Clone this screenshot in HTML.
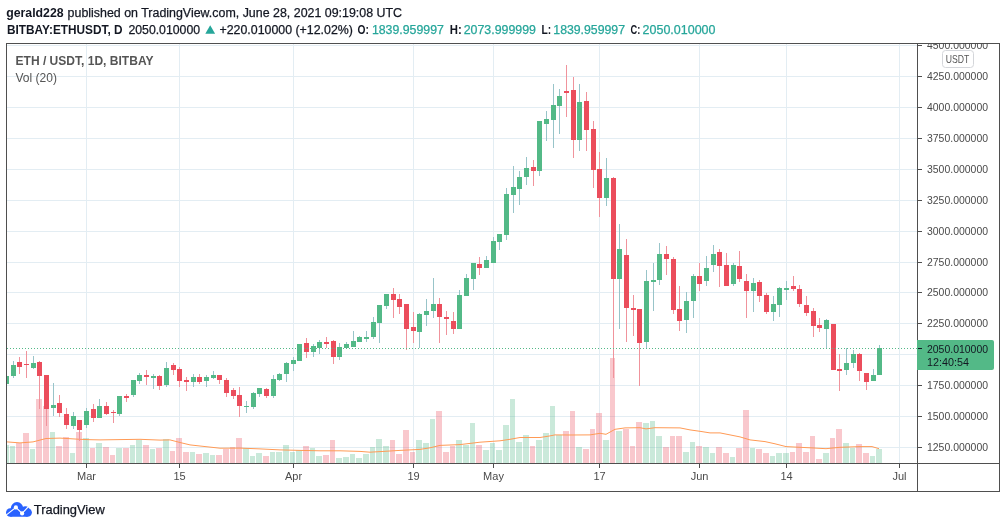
<!DOCTYPE html>
<html><head><meta charset="utf-8"><style>
html,body{margin:0;padding:0;background:#fff;width:1006px;height:528px;overflow:hidden;position:relative;font-family:"Liberation Sans", sans-serif;}
</style></head><body>
<svg width="1006" height="528" viewBox="0 0 1006 528" style="position:absolute;left:0;top:0;will-change:transform"><defs><clipPath id="pane"><rect x="7" y="44" width="910" height="419"/></clipPath><clipPath id="pax"><rect x="918" y="44" width="81" height="419"/></clipPath></defs><g shape-rendering="crispEdges"><rect x="7" y="45" width="910" height="1" fill="#e3edf3"/><rect x="7" y="76" width="910" height="1" fill="#e3edf3"/><rect x="7" y="107" width="910" height="1" fill="#e3edf3"/><rect x="7" y="138" width="910" height="1" fill="#e3edf3"/><rect x="7" y="169" width="910" height="1" fill="#e3edf3"/><rect x="7" y="200" width="910" height="1" fill="#e3edf3"/><rect x="7" y="231" width="910" height="1" fill="#e3edf3"/><rect x="7" y="262" width="910" height="1" fill="#e3edf3"/><rect x="7" y="292" width="910" height="1" fill="#e3edf3"/><rect x="7" y="323" width="910" height="1" fill="#e3edf3"/><rect x="7" y="354" width="910" height="1" fill="#e3edf3"/><rect x="7" y="385" width="910" height="1" fill="#e3edf3"/><rect x="7" y="416" width="910" height="1" fill="#e3edf3"/><rect x="7" y="447" width="910" height="1" fill="#e3edf3"/><rect x="86" y="44" width="1" height="419" fill="#e3edf3"/><rect x="179" y="44" width="1" height="419" fill="#e3edf3"/><rect x="293" y="44" width="1" height="419" fill="#e3edf3"/><rect x="413" y="44" width="1" height="419" fill="#e3edf3"/><rect x="493" y="44" width="1" height="419" fill="#e3edf3"/><rect x="599" y="44" width="1" height="419" fill="#e3edf3"/><rect x="699" y="44" width="1" height="419" fill="#e3edf3"/><rect x="786" y="44" width="1" height="419" fill="#e3edf3"/><rect x="899" y="44" width="1" height="419" fill="#e3edf3"/></g><g clip-path="url(#pane)" shape-rendering="crispEdges"><rect x="3" y="445" width="6" height="18" fill="rgba(83,185,135,0.31)"/><rect x="10" y="446" width="5" height="17" fill="rgba(83,185,135,0.31)"/><rect x="16" y="443" width="6" height="20" fill="rgba(235,77,92,0.31)"/><rect x="23" y="433" width="6" height="30" fill="rgba(235,77,92,0.31)"/><rect x="30" y="449" width="5" height="14" fill="rgba(83,185,135,0.31)"/><rect x="36" y="399" width="6" height="64" fill="rgba(235,77,92,0.31)"/><rect x="43" y="406" width="6" height="57" fill="rgba(235,77,92,0.31)"/><rect x="50" y="432" width="5" height="31" fill="rgba(83,185,135,0.31)"/><rect x="56" y="446" width="6" height="17" fill="rgba(235,77,92,0.31)"/><rect x="63" y="437" width="6" height="26" fill="rgba(235,77,92,0.31)"/><rect x="70" y="453" width="5" height="10" fill="rgba(83,185,135,0.31)"/><rect x="76" y="432" width="6" height="31" fill="rgba(235,77,92,0.31)"/><rect x="83" y="438" width="6" height="25" fill="rgba(83,185,135,0.31)"/><rect x="90" y="448" width="5" height="15" fill="rgba(235,77,92,0.31)"/><rect x="96" y="443" width="6" height="20" fill="rgba(83,185,135,0.31)"/><rect x="103" y="447" width="6" height="16" fill="rgba(235,77,92,0.31)"/><rect x="110" y="455" width="5" height="8" fill="rgba(235,77,92,0.31)"/><rect x="116" y="448" width="6" height="15" fill="rgba(83,185,135,0.31)"/><rect x="123" y="448" width="6" height="15" fill="rgba(235,77,92,0.31)"/><rect x="130" y="445" width="5" height="18" fill="rgba(83,185,135,0.31)"/><rect x="136" y="440" width="6" height="23" fill="rgba(83,185,135,0.31)"/><rect x="143" y="445" width="6" height="18" fill="rgba(235,77,92,0.31)"/><rect x="150" y="449" width="5" height="14" fill="rgba(83,185,135,0.31)"/><rect x="156" y="448" width="6" height="15" fill="rgba(235,77,92,0.31)"/><rect x="163" y="439" width="6" height="24" fill="rgba(83,185,135,0.31)"/><rect x="170" y="451" width="5" height="12" fill="rgba(235,77,92,0.31)"/><rect x="176" y="438" width="6" height="25" fill="rgba(235,77,92,0.31)"/><rect x="183" y="452" width="6" height="11" fill="rgba(235,77,92,0.31)"/><rect x="190" y="452" width="5" height="11" fill="rgba(83,185,135,0.31)"/><rect x="196" y="454" width="6" height="9" fill="rgba(235,77,92,0.31)"/><rect x="203" y="453" width="6" height="10" fill="rgba(83,185,135,0.31)"/><rect x="210" y="455" width="5" height="8" fill="rgba(83,185,135,0.31)"/><rect x="216" y="455" width="6" height="8" fill="rgba(235,77,92,0.31)"/><rect x="223" y="449" width="6" height="14" fill="rgba(235,77,92,0.31)"/><rect x="230" y="447" width="5" height="16" fill="rgba(235,77,92,0.31)"/><rect x="236" y="438" width="6" height="25" fill="rgba(235,77,92,0.31)"/><rect x="243" y="448" width="6" height="15" fill="rgba(83,185,135,0.31)"/><rect x="250" y="456" width="5" height="7" fill="rgba(83,185,135,0.31)"/><rect x="256" y="453" width="6" height="10" fill="rgba(83,185,135,0.31)"/><rect x="263" y="456" width="6" height="7" fill="rgba(235,77,92,0.31)"/><rect x="270" y="452" width="5" height="11" fill="rgba(83,185,135,0.31)"/><rect x="276" y="452" width="6" height="11" fill="rgba(83,185,135,0.31)"/><rect x="283" y="445" width="6" height="18" fill="rgba(83,185,135,0.31)"/><rect x="290" y="452" width="5" height="11" fill="rgba(83,185,135,0.31)"/><rect x="296" y="450" width="6" height="13" fill="rgba(83,185,135,0.31)"/><rect x="303" y="446" width="6" height="17" fill="rgba(235,77,92,0.31)"/><rect x="310" y="448" width="5" height="15" fill="rgba(83,185,135,0.31)"/><rect x="316" y="456" width="6" height="7" fill="rgba(83,185,135,0.31)"/><rect x="323" y="455" width="6" height="8" fill="rgba(235,77,92,0.31)"/><rect x="330" y="440" width="5" height="23" fill="rgba(235,77,92,0.31)"/><rect x="336" y="458" width="6" height="5" fill="rgba(83,185,135,0.31)"/><rect x="343" y="457" width="6" height="6" fill="rgba(83,185,135,0.31)"/><rect x="350" y="454" width="5" height="9" fill="rgba(83,185,135,0.31)"/><rect x="356" y="458" width="6" height="5" fill="rgba(83,185,135,0.31)"/><rect x="363" y="454" width="6" height="9" fill="rgba(83,185,135,0.31)"/><rect x="370" y="447" width="5" height="16" fill="rgba(83,185,135,0.31)"/><rect x="376" y="439" width="6" height="24" fill="rgba(83,185,135,0.31)"/><rect x="383" y="446" width="6" height="17" fill="rgba(83,185,135,0.31)"/><rect x="390" y="440" width="5" height="23" fill="rgba(235,77,92,0.31)"/><rect x="396" y="454" width="6" height="9" fill="rgba(235,77,92,0.31)"/><rect x="403" y="430" width="6" height="33" fill="rgba(235,77,92,0.31)"/><rect x="410" y="452" width="5" height="11" fill="rgba(235,77,92,0.31)"/><rect x="416" y="440" width="6" height="23" fill="rgba(83,185,135,0.31)"/><rect x="423" y="443" width="6" height="20" fill="rgba(83,185,135,0.31)"/><rect x="430" y="419" width="5" height="44" fill="rgba(83,185,135,0.31)"/><rect x="436" y="411" width="6" height="52" fill="rgba(235,77,92,0.31)"/><rect x="443" y="452" width="6" height="11" fill="rgba(235,77,92,0.31)"/><rect x="450" y="446" width="5" height="17" fill="rgba(235,77,92,0.31)"/><rect x="456" y="440" width="6" height="23" fill="rgba(83,185,135,0.31)"/><rect x="463" y="445" width="6" height="18" fill="rgba(83,185,135,0.31)"/><rect x="470" y="423" width="5" height="40" fill="rgba(83,185,135,0.31)"/><rect x="476" y="445" width="6" height="18" fill="rgba(235,77,92,0.31)"/><rect x="483" y="450" width="6" height="13" fill="rgba(83,185,135,0.31)"/><rect x="490" y="443" width="5" height="20" fill="rgba(83,185,135,0.31)"/><rect x="496" y="450" width="6" height="13" fill="rgba(83,185,135,0.31)"/><rect x="503" y="425" width="6" height="38" fill="rgba(83,185,135,0.31)"/><rect x="510" y="399" width="5" height="64" fill="rgba(83,185,135,0.31)"/><rect x="516" y="442" width="6" height="21" fill="rgba(83,185,135,0.31)"/><rect x="523" y="435" width="6" height="28" fill="rgba(83,185,135,0.31)"/><rect x="530" y="446" width="5" height="17" fill="rgba(235,77,92,0.31)"/><rect x="536" y="440" width="6" height="23" fill="rgba(83,185,135,0.31)"/><rect x="543" y="433" width="6" height="30" fill="rgba(83,185,135,0.31)"/><rect x="550" y="406" width="5" height="57" fill="rgba(83,185,135,0.31)"/><rect x="556" y="435" width="6" height="28" fill="rgba(83,185,135,0.31)"/><rect x="563" y="431" width="6" height="32" fill="rgba(235,77,92,0.31)"/><rect x="570" y="411" width="5" height="52" fill="rgba(235,77,92,0.31)"/><rect x="576" y="447" width="6" height="16" fill="rgba(83,185,135,0.31)"/><rect x="583" y="449" width="6" height="14" fill="rgba(235,77,92,0.31)"/><rect x="590" y="429" width="5" height="34" fill="rgba(235,77,92,0.31)"/><rect x="596" y="413" width="6" height="50" fill="rgba(235,77,92,0.31)"/><rect x="603" y="440" width="6" height="23" fill="rgba(83,185,135,0.31)"/><rect x="610" y="358" width="5" height="105" fill="rgba(235,77,92,0.31)"/><rect x="616" y="431" width="6" height="32" fill="rgba(83,185,135,0.31)"/><rect x="623" y="429" width="6" height="34" fill="rgba(235,77,92,0.31)"/><rect x="630" y="446" width="5" height="17" fill="rgba(235,77,92,0.31)"/><rect x="636" y="422" width="6" height="41" fill="rgba(235,77,92,0.31)"/><rect x="643" y="423" width="6" height="40" fill="rgba(83,185,135,0.31)"/><rect x="650" y="421" width="5" height="42" fill="rgba(83,185,135,0.31)"/><rect x="656" y="436" width="6" height="27" fill="rgba(83,185,135,0.31)"/><rect x="663" y="447" width="6" height="16" fill="rgba(235,77,92,0.31)"/><rect x="670" y="436" width="5" height="27" fill="rgba(235,77,92,0.31)"/><rect x="676" y="436" width="6" height="27" fill="rgba(235,77,92,0.31)"/><rect x="683" y="452" width="6" height="11" fill="rgba(83,185,135,0.31)"/><rect x="690" y="442" width="5" height="21" fill="rgba(83,185,135,0.31)"/><rect x="696" y="446" width="6" height="17" fill="rgba(235,77,92,0.31)"/><rect x="703" y="447" width="6" height="16" fill="rgba(83,185,135,0.31)"/><rect x="710" y="453" width="5" height="10" fill="rgba(83,185,135,0.31)"/><rect x="716" y="447" width="6" height="16" fill="rgba(235,77,92,0.31)"/><rect x="723" y="453" width="6" height="10" fill="rgba(235,77,92,0.31)"/><rect x="730" y="457" width="5" height="6" fill="rgba(83,185,135,0.31)"/><rect x="736" y="448" width="6" height="15" fill="rgba(235,77,92,0.31)"/><rect x="743" y="410" width="6" height="53" fill="rgba(235,77,92,0.31)"/><rect x="750" y="448" width="5" height="15" fill="rgba(83,185,135,0.31)"/><rect x="756" y="449" width="6" height="14" fill="rgba(235,77,92,0.31)"/><rect x="763" y="453" width="6" height="10" fill="rgba(235,77,92,0.31)"/><rect x="770" y="456" width="5" height="7" fill="rgba(83,185,135,0.31)"/><rect x="776" y="453" width="6" height="10" fill="rgba(83,185,135,0.31)"/><rect x="783" y="453" width="6" height="10" fill="rgba(83,185,135,0.31)"/><rect x="790" y="452" width="5" height="11" fill="rgba(235,77,92,0.31)"/><rect x="796" y="443" width="6" height="20" fill="rgba(235,77,92,0.31)"/><rect x="803" y="452" width="6" height="11" fill="rgba(235,77,92,0.31)"/><rect x="810" y="436" width="5" height="27" fill="rgba(235,77,92,0.31)"/><rect x="816" y="459" width="6" height="4" fill="rgba(235,77,92,0.31)"/><rect x="823" y="453" width="6" height="10" fill="rgba(83,185,135,0.31)"/><rect x="830" y="438" width="5" height="25" fill="rgba(235,77,92,0.31)"/><rect x="836" y="429" width="6" height="34" fill="rgba(235,77,92,0.31)"/><rect x="843" y="443" width="6" height="20" fill="rgba(83,185,135,0.31)"/><rect x="850" y="448" width="5" height="15" fill="rgba(83,185,135,0.31)"/><rect x="856" y="444" width="6" height="19" fill="rgba(235,77,92,0.31)"/><rect x="863" y="453" width="6" height="10" fill="rgba(235,77,92,0.31)"/><rect x="870" y="456" width="5" height="7" fill="rgba(83,185,135,0.31)"/><rect x="876" y="449" width="6" height="14" fill="rgba(83,185,135,0.31)"/></g><polyline points="7,441.9 20,442.9 33,441.9 46,438.5 60,438.1 80,439.3 90,439.7 100,439.9 140,439.3 160,440.1 170,439.9 180,442.5 190,444.9 200,446.0 220,448.2 240,448.1 260,448.9 280,449.9 300,450.4 320,450.8 340,450.8 360,451.4 370,452.2 380,451.6 400,450.4 420,449.4 430,447.8 440,445.4 460,444.6 470,443.4 480,442.2 500,440.8 510,439.3 520,437.5 540,437.5 550,435.9 555,434.9 570,435 590,434.9 600,433.3 606,434.3 615,429.3 625,427.9 640,427.7 646,428.9 655,427.7 680,427.9 690,429.9 700,431.3 710,432.9 720,432.9 740,436.9 750,439.9 765,441.6 775,443.8 786,446.6 800,447.3 810,447.8 826,448.7 840,447.3 860,446.6 872,446.6 879,448.7" fill="none" stroke="#ff9a55" stroke-width="1.0" stroke-linejoin="round"/><g clip-path="url(#pane)" shape-rendering="crispEdges"><rect x="6" y="376" width="1" height="8" fill="#98c4c9"/><rect x="4" y="376" width="5" height="8" fill="#53b987"/><rect x="13" y="361" width="1" height="17" fill="#98c4c9"/><rect x="11" y="365" width="5" height="11" fill="#53b987"/><rect x="19" y="357" width="1" height="17" fill="#f0939c"/><rect x="17" y="362" width="5" height="5" fill="#eb4d5c"/><rect x="26" y="351" width="1" height="27" fill="#f0939c"/><rect x="24" y="364" width="5" height="1" fill="#eb4d5c"/><rect x="33" y="356" width="1" height="13" fill="#98c4c9"/><rect x="31" y="363" width="5" height="5" fill="#53b987"/><rect x="39" y="361" width="1" height="48" fill="#f0939c"/><rect x="37" y="362" width="5" height="14" fill="#eb4d5c"/><rect x="46" y="375" width="1" height="51" fill="#f0939c"/><rect x="44" y="375" width="5" height="34" fill="#eb4d5c"/><rect x="53" y="383" width="1" height="33" fill="#98c4c9"/><rect x="51" y="405" width="5" height="3" fill="#53b987"/><rect x="59" y="395" width="1" height="22" fill="#f0939c"/><rect x="57" y="403" width="5" height="10" fill="#eb4d5c"/><rect x="66" y="408" width="1" height="21" fill="#f0939c"/><rect x="64" y="414" width="5" height="11" fill="#eb4d5c"/><rect x="73" y="412" width="1" height="17" fill="#98c4c9"/><rect x="71" y="416" width="5" height="10" fill="#53b987"/><rect x="79" y="420" width="1" height="21" fill="#f0939c"/><rect x="77" y="420" width="5" height="10" fill="#eb4d5c"/><rect x="86" y="408" width="1" height="20" fill="#98c4c9"/><rect x="84" y="411" width="5" height="14" fill="#53b987"/><rect x="93" y="404" width="1" height="18" fill="#f0939c"/><rect x="91" y="409" width="5" height="9" fill="#eb4d5c"/><rect x="99" y="399" width="1" height="19" fill="#98c4c9"/><rect x="97" y="406" width="5" height="12" fill="#53b987"/><rect x="106" y="402" width="1" height="13" fill="#f0939c"/><rect x="104" y="406" width="5" height="8" fill="#eb4d5c"/><rect x="113" y="410" width="1" height="13" fill="#f0939c"/><rect x="111" y="412" width="5" height="1" fill="#eb4d5c"/><rect x="119" y="396" width="1" height="20" fill="#98c4c9"/><rect x="117" y="396" width="5" height="18" fill="#53b987"/><rect x="126" y="394" width="1" height="8" fill="#f0939c"/><rect x="124" y="396" width="5" height="2" fill="#eb4d5c"/><rect x="133" y="380" width="1" height="17" fill="#98c4c9"/><rect x="131" y="380" width="5" height="15" fill="#53b987"/><rect x="139" y="373" width="1" height="11" fill="#98c4c9"/><rect x="137" y="375" width="5" height="6" fill="#53b987"/><rect x="146" y="370" width="1" height="15" fill="#f0939c"/><rect x="144" y="375" width="5" height="2" fill="#eb4d5c"/><rect x="153" y="374" width="1" height="15" fill="#98c4c9"/><rect x="151" y="376" width="5" height="2" fill="#53b987"/><rect x="159" y="375" width="1" height="15" fill="#f0939c"/><rect x="157" y="376" width="5" height="10" fill="#eb4d5c"/><rect x="166" y="362" width="1" height="25" fill="#98c4c9"/><rect x="164" y="368" width="5" height="17" fill="#53b987"/><rect x="173" y="363" width="1" height="12" fill="#f0939c"/><rect x="171" y="365" width="5" height="5" fill="#eb4d5c"/><rect x="179" y="367" width="1" height="20" fill="#f0939c"/><rect x="177" y="369" width="5" height="12" fill="#eb4d5c"/><rect x="186" y="377" width="1" height="14" fill="#f0939c"/><rect x="184" y="380" width="5" height="2" fill="#eb4d5c"/><rect x="193" y="374" width="1" height="13" fill="#98c4c9"/><rect x="191" y="377" width="5" height="5" fill="#53b987"/><rect x="199" y="374" width="1" height="10" fill="#f0939c"/><rect x="197" y="377" width="5" height="5" fill="#eb4d5c"/><rect x="206" y="375" width="1" height="12" fill="#98c4c9"/><rect x="204" y="377" width="5" height="4" fill="#53b987"/><rect x="213" y="371" width="1" height="8" fill="#98c4c9"/><rect x="211" y="375" width="5" height="3" fill="#53b987"/><rect x="219" y="375" width="1" height="9" fill="#f0939c"/><rect x="217" y="375" width="5" height="5" fill="#eb4d5c"/><rect x="226" y="378" width="1" height="19" fill="#f0939c"/><rect x="224" y="380" width="5" height="13" fill="#eb4d5c"/><rect x="233" y="388" width="1" height="11" fill="#f0939c"/><rect x="231" y="390" width="5" height="6" fill="#eb4d5c"/><rect x="239" y="387" width="1" height="30" fill="#f0939c"/><rect x="237" y="395" width="5" height="11" fill="#eb4d5c"/><rect x="246" y="401" width="1" height="12" fill="#98c4c9"/><rect x="244" y="406" width="5" height="1" fill="#53b987"/><rect x="253" y="392" width="1" height="17" fill="#98c4c9"/><rect x="251" y="393" width="5" height="14" fill="#53b987"/><rect x="259" y="388" width="1" height="9" fill="#98c4c9"/><rect x="257" y="388" width="5" height="6" fill="#53b987"/><rect x="266" y="388" width="1" height="10" fill="#f0939c"/><rect x="264" y="389" width="5" height="7" fill="#eb4d5c"/><rect x="273" y="375" width="1" height="23" fill="#98c4c9"/><rect x="271" y="379" width="5" height="17" fill="#53b987"/><rect x="279" y="373" width="1" height="8" fill="#98c4c9"/><rect x="277" y="374" width="5" height="6" fill="#53b987"/><rect x="286" y="362" width="1" height="20" fill="#98c4c9"/><rect x="284" y="363" width="5" height="11" fill="#53b987"/><rect x="293" y="357" width="1" height="14" fill="#98c4c9"/><rect x="291" y="360" width="5" height="4" fill="#53b987"/><rect x="299" y="344" width="1" height="17" fill="#98c4c9"/><rect x="297" y="344" width="5" height="17" fill="#53b987"/><rect x="306" y="338" width="1" height="20" fill="#f0939c"/><rect x="304" y="343" width="5" height="9" fill="#eb4d5c"/><rect x="313" y="344" width="1" height="13" fill="#98c4c9"/><rect x="311" y="346" width="5" height="6" fill="#53b987"/><rect x="319" y="340" width="1" height="14" fill="#98c4c9"/><rect x="317" y="342" width="5" height="6" fill="#53b987"/><rect x="326" y="337" width="1" height="11" fill="#f0939c"/><rect x="324" y="342" width="5" height="2" fill="#eb4d5c"/><rect x="333" y="340" width="1" height="24" fill="#f0939c"/><rect x="331" y="341" width="5" height="16" fill="#eb4d5c"/><rect x="339" y="343" width="1" height="17" fill="#98c4c9"/><rect x="337" y="347" width="5" height="10" fill="#53b987"/><rect x="346" y="342" width="1" height="6" fill="#98c4c9"/><rect x="344" y="344" width="5" height="4" fill="#53b987"/><rect x="353" y="331" width="1" height="16" fill="#98c4c9"/><rect x="351" y="341" width="5" height="6" fill="#53b987"/><rect x="359" y="336" width="1" height="6" fill="#98c4c9"/><rect x="357" y="337" width="5" height="5" fill="#53b987"/><rect x="366" y="331" width="1" height="11" fill="#98c4c9"/><rect x="364" y="337" width="5" height="2" fill="#53b987"/><rect x="373" y="317" width="1" height="22" fill="#98c4c9"/><rect x="371" y="322" width="5" height="15" fill="#53b987"/><rect x="379" y="305" width="1" height="38" fill="#98c4c9"/><rect x="377" y="305" width="5" height="18" fill="#53b987"/><rect x="386" y="294" width="1" height="15" fill="#98c4c9"/><rect x="384" y="294" width="5" height="12" fill="#53b987"/><rect x="393" y="288" width="1" height="30" fill="#f0939c"/><rect x="391" y="294" width="5" height="6" fill="#eb4d5c"/><rect x="399" y="294" width="1" height="20" fill="#f0939c"/><rect x="397" y="299" width="5" height="8" fill="#eb4d5c"/><rect x="406" y="304" width="1" height="46" fill="#f0939c"/><rect x="404" y="304" width="5" height="25" fill="#eb4d5c"/><rect x="413" y="312" width="1" height="31" fill="#f0939c"/><rect x="411" y="327" width="5" height="4" fill="#eb4d5c"/><rect x="419" y="313" width="1" height="35" fill="#98c4c9"/><rect x="417" y="314" width="5" height="18" fill="#53b987"/><rect x="426" y="299" width="1" height="27" fill="#98c4c9"/><rect x="424" y="311" width="5" height="4" fill="#53b987"/><rect x="433" y="278" width="1" height="40" fill="#98c4c9"/><rect x="431" y="304" width="5" height="7" fill="#53b987"/><rect x="439" y="298" width="1" height="45" fill="#f0939c"/><rect x="437" y="304" width="5" height="13" fill="#eb4d5c"/><rect x="446" y="311" width="1" height="24" fill="#f0939c"/><rect x="444" y="317" width="5" height="2" fill="#eb4d5c"/><rect x="453" y="312" width="1" height="22" fill="#f0939c"/><rect x="451" y="321" width="5" height="8" fill="#eb4d5c"/><rect x="459" y="290" width="1" height="39" fill="#98c4c9"/><rect x="457" y="295" width="5" height="34" fill="#53b987"/><rect x="466" y="274" width="1" height="22" fill="#98c4c9"/><rect x="464" y="278" width="5" height="18" fill="#53b987"/><rect x="473" y="263" width="1" height="27" fill="#98c4c9"/><rect x="471" y="263" width="5" height="16" fill="#53b987"/><rect x="479" y="257" width="1" height="18" fill="#f0939c"/><rect x="477" y="264" width="5" height="4" fill="#eb4d5c"/><rect x="486" y="256" width="1" height="12" fill="#98c4c9"/><rect x="484" y="260" width="5" height="8" fill="#53b987"/><rect x="493" y="237" width="1" height="26" fill="#98c4c9"/><rect x="491" y="241" width="5" height="22" fill="#53b987"/><rect x="499" y="234" width="1" height="16" fill="#98c4c9"/><rect x="497" y="234" width="5" height="8" fill="#53b987"/><rect x="506" y="188" width="1" height="52" fill="#98c4c9"/><rect x="504" y="194" width="5" height="41" fill="#53b987"/><rect x="513" y="166" width="1" height="47" fill="#98c4c9"/><rect x="511" y="187" width="5" height="8" fill="#53b987"/><rect x="519" y="171" width="1" height="34" fill="#98c4c9"/><rect x="517" y="177" width="5" height="12" fill="#53b987"/><rect x="526" y="157" width="1" height="28" fill="#98c4c9"/><rect x="524" y="168" width="5" height="9" fill="#53b987"/><rect x="533" y="160" width="1" height="26" fill="#f0939c"/><rect x="531" y="167" width="5" height="4" fill="#eb4d5c"/><rect x="539" y="121" width="1" height="55" fill="#98c4c9"/><rect x="537" y="121" width="5" height="50" fill="#53b987"/><rect x="546" y="111" width="1" height="30" fill="#98c4c9"/><rect x="544" y="119" width="5" height="5" fill="#53b987"/><rect x="553" y="84" width="1" height="64" fill="#98c4c9"/><rect x="551" y="105" width="5" height="15" fill="#53b987"/><rect x="559" y="89" width="1" height="45" fill="#98c4c9"/><rect x="557" y="96" width="5" height="10" fill="#53b987"/><rect x="566" y="65" width="1" height="52" fill="#f0939c"/><rect x="564" y="91" width="5" height="2" fill="#eb4d5c"/><rect x="573" y="77" width="1" height="81" fill="#f0939c"/><rect x="571" y="90" width="5" height="50" fill="#eb4d5c"/><rect x="579" y="84" width="1" height="67" fill="#98c4c9"/><rect x="577" y="102" width="5" height="38" fill="#53b987"/><rect x="586" y="92" width="1" height="59" fill="#f0939c"/><rect x="584" y="101" width="5" height="29" fill="#eb4d5c"/><rect x="593" y="121" width="1" height="67" fill="#f0939c"/><rect x="591" y="129" width="5" height="41" fill="#eb4d5c"/><rect x="599" y="152" width="1" height="65" fill="#f0939c"/><rect x="597" y="169" width="5" height="29" fill="#eb4d5c"/><rect x="606" y="158" width="1" height="48" fill="#98c4c9"/><rect x="604" y="178" width="5" height="20" fill="#53b987"/><rect x="613" y="177" width="1" height="201" fill="#f0939c"/><rect x="611" y="178" width="5" height="101" fill="#eb4d5c"/><rect x="619" y="224" width="1" height="105" fill="#98c4c9"/><rect x="617" y="249" width="5" height="30" fill="#53b987"/><rect x="626" y="239" width="1" height="103" fill="#f0939c"/><rect x="624" y="255" width="5" height="53" fill="#eb4d5c"/><rect x="633" y="295" width="1" height="41" fill="#f0939c"/><rect x="631" y="308" width="5" height="2" fill="#eb4d5c"/><rect x="639" y="309" width="1" height="77" fill="#f0939c"/><rect x="637" y="309" width="5" height="34" fill="#eb4d5c"/><rect x="646" y="270" width="1" height="78" fill="#98c4c9"/><rect x="644" y="281" width="5" height="61" fill="#53b987"/><rect x="653" y="263" width="1" height="48" fill="#98c4c9"/><rect x="651" y="280" width="5" height="2" fill="#53b987"/><rect x="659" y="243" width="1" height="42" fill="#98c4c9"/><rect x="657" y="254" width="5" height="26" fill="#53b987"/><rect x="666" y="246" width="1" height="29" fill="#f0939c"/><rect x="664" y="254" width="5" height="5" fill="#eb4d5c"/><rect x="673" y="257" width="1" height="57" fill="#f0939c"/><rect x="671" y="259" width="5" height="51" fill="#eb4d5c"/><rect x="679" y="286" width="1" height="45" fill="#f0939c"/><rect x="677" y="309" width="5" height="12" fill="#eb4d5c"/><rect x="686" y="292" width="1" height="41" fill="#98c4c9"/><rect x="684" y="301" width="5" height="19" fill="#53b987"/><rect x="693" y="274" width="1" height="44" fill="#98c4c9"/><rect x="691" y="276" width="5" height="25" fill="#53b987"/><rect x="699" y="263" width="1" height="28" fill="#f0939c"/><rect x="697" y="276" width="5" height="8" fill="#eb4d5c"/><rect x="706" y="256" width="1" height="30" fill="#98c4c9"/><rect x="704" y="268" width="5" height="13" fill="#53b987"/><rect x="713" y="245" width="1" height="27" fill="#98c4c9"/><rect x="711" y="254" width="5" height="11" fill="#53b987"/><rect x="719" y="249" width="1" height="38" fill="#f0939c"/><rect x="717" y="252" width="5" height="14" fill="#eb4d5c"/><rect x="726" y="253" width="1" height="33" fill="#f0939c"/><rect x="724" y="265" width="5" height="21" fill="#eb4d5c"/><rect x="733" y="263" width="1" height="23" fill="#98c4c9"/><rect x="731" y="265" width="5" height="19" fill="#53b987"/><rect x="739" y="251" width="1" height="31" fill="#f0939c"/><rect x="737" y="266" width="5" height="13" fill="#eb4d5c"/><rect x="746" y="274" width="1" height="44" fill="#f0939c"/><rect x="744" y="281" width="5" height="10" fill="#eb4d5c"/><rect x="753" y="278" width="1" height="34" fill="#98c4c9"/><rect x="751" y="283" width="5" height="8" fill="#53b987"/><rect x="759" y="280" width="1" height="22" fill="#f0939c"/><rect x="757" y="282" width="5" height="14" fill="#eb4d5c"/><rect x="766" y="293" width="1" height="21" fill="#f0939c"/><rect x="764" y="295" width="5" height="17" fill="#eb4d5c"/><rect x="773" y="296" width="1" height="25" fill="#98c4c9"/><rect x="771" y="304" width="5" height="8" fill="#53b987"/><rect x="779" y="287" width="1" height="30" fill="#98c4c9"/><rect x="777" y="288" width="5" height="17" fill="#53b987"/><rect x="786" y="281" width="1" height="19" fill="#98c4c9"/><rect x="784" y="288" width="5" height="2" fill="#53b987"/><rect x="793" y="276" width="1" height="15" fill="#f0939c"/><rect x="791" y="286" width="5" height="3" fill="#eb4d5c"/><rect x="799" y="285" width="1" height="22" fill="#f0939c"/><rect x="797" y="289" width="5" height="15" fill="#eb4d5c"/><rect x="806" y="296" width="1" height="20" fill="#f0939c"/><rect x="804" y="305" width="5" height="8" fill="#eb4d5c"/><rect x="813" y="308" width="1" height="29" fill="#f0939c"/><rect x="811" y="311" width="5" height="15" fill="#eb4d5c"/><rect x="819" y="318" width="1" height="14" fill="#f0939c"/><rect x="817" y="325" width="5" height="3" fill="#eb4d5c"/><rect x="826" y="319" width="1" height="29" fill="#98c4c9"/><rect x="824" y="320" width="5" height="9" fill="#53b987"/><rect x="833" y="324" width="1" height="46" fill="#f0939c"/><rect x="831" y="324" width="5" height="46" fill="#eb4d5c"/><rect x="839" y="354" width="1" height="37" fill="#f0939c"/><rect x="837" y="369" width="5" height="2" fill="#eb4d5c"/><rect x="846" y="348" width="1" height="27" fill="#98c4c9"/><rect x="844" y="363" width="5" height="7" fill="#53b987"/><rect x="853" y="350" width="1" height="18" fill="#98c4c9"/><rect x="851" y="354" width="5" height="9" fill="#53b987"/><rect x="859" y="353" width="1" height="28" fill="#f0939c"/><rect x="857" y="354" width="5" height="17" fill="#eb4d5c"/><rect x="866" y="373" width="1" height="17" fill="#f0939c"/><rect x="864" y="373" width="5" height="9" fill="#eb4d5c"/><rect x="873" y="369" width="1" height="12" fill="#98c4c9"/><rect x="871" y="375" width="5" height="6" fill="#53b987"/><rect x="879" y="345" width="1" height="30" fill="#98c4c9"/><rect x="877" y="348" width="5" height="27" fill="#53b987"/></g><g shape-rendering="crispEdges"><rect x="7" y="348" width="1" height="1" fill="#53b987"/><rect x="10" y="348" width="1" height="1" fill="#53b987"/><rect x="13" y="348" width="1" height="1" fill="#53b987"/><rect x="16" y="348" width="1" height="1" fill="#53b987"/><rect x="19" y="348" width="1" height="1" fill="#53b987"/><rect x="22" y="348" width="1" height="1" fill="#53b987"/><rect x="25" y="348" width="1" height="1" fill="#53b987"/><rect x="28" y="348" width="1" height="1" fill="#53b987"/><rect x="31" y="348" width="1" height="1" fill="#53b987"/><rect x="34" y="348" width="1" height="1" fill="#53b987"/><rect x="37" y="348" width="1" height="1" fill="#53b987"/><rect x="40" y="348" width="1" height="1" fill="#53b987"/><rect x="43" y="348" width="1" height="1" fill="#53b987"/><rect x="46" y="348" width="1" height="1" fill="#53b987"/><rect x="49" y="348" width="1" height="1" fill="#53b987"/><rect x="52" y="348" width="1" height="1" fill="#53b987"/><rect x="55" y="348" width="1" height="1" fill="#53b987"/><rect x="58" y="348" width="1" height="1" fill="#53b987"/><rect x="61" y="348" width="1" height="1" fill="#53b987"/><rect x="64" y="348" width="1" height="1" fill="#53b987"/><rect x="67" y="348" width="1" height="1" fill="#53b987"/><rect x="70" y="348" width="1" height="1" fill="#53b987"/><rect x="73" y="348" width="1" height="1" fill="#53b987"/><rect x="76" y="348" width="1" height="1" fill="#53b987"/><rect x="79" y="348" width="1" height="1" fill="#53b987"/><rect x="82" y="348" width="1" height="1" fill="#53b987"/><rect x="85" y="348" width="1" height="1" fill="#53b987"/><rect x="88" y="348" width="1" height="1" fill="#53b987"/><rect x="91" y="348" width="1" height="1" fill="#53b987"/><rect x="94" y="348" width="1" height="1" fill="#53b987"/><rect x="97" y="348" width="1" height="1" fill="#53b987"/><rect x="100" y="348" width="1" height="1" fill="#53b987"/><rect x="103" y="348" width="1" height="1" fill="#53b987"/><rect x="106" y="348" width="1" height="1" fill="#53b987"/><rect x="109" y="348" width="1" height="1" fill="#53b987"/><rect x="112" y="348" width="1" height="1" fill="#53b987"/><rect x="115" y="348" width="1" height="1" fill="#53b987"/><rect x="118" y="348" width="1" height="1" fill="#53b987"/><rect x="121" y="348" width="1" height="1" fill="#53b987"/><rect x="124" y="348" width="1" height="1" fill="#53b987"/><rect x="127" y="348" width="1" height="1" fill="#53b987"/><rect x="130" y="348" width="1" height="1" fill="#53b987"/><rect x="133" y="348" width="1" height="1" fill="#53b987"/><rect x="136" y="348" width="1" height="1" fill="#53b987"/><rect x="139" y="348" width="1" height="1" fill="#53b987"/><rect x="142" y="348" width="1" height="1" fill="#53b987"/><rect x="145" y="348" width="1" height="1" fill="#53b987"/><rect x="148" y="348" width="1" height="1" fill="#53b987"/><rect x="151" y="348" width="1" height="1" fill="#53b987"/><rect x="154" y="348" width="1" height="1" fill="#53b987"/><rect x="157" y="348" width="1" height="1" fill="#53b987"/><rect x="160" y="348" width="1" height="1" fill="#53b987"/><rect x="163" y="348" width="1" height="1" fill="#53b987"/><rect x="166" y="348" width="1" height="1" fill="#53b987"/><rect x="169" y="348" width="1" height="1" fill="#53b987"/><rect x="172" y="348" width="1" height="1" fill="#53b987"/><rect x="175" y="348" width="1" height="1" fill="#53b987"/><rect x="178" y="348" width="1" height="1" fill="#53b987"/><rect x="181" y="348" width="1" height="1" fill="#53b987"/><rect x="184" y="348" width="1" height="1" fill="#53b987"/><rect x="187" y="348" width="1" height="1" fill="#53b987"/><rect x="190" y="348" width="1" height="1" fill="#53b987"/><rect x="193" y="348" width="1" height="1" fill="#53b987"/><rect x="196" y="348" width="1" height="1" fill="#53b987"/><rect x="199" y="348" width="1" height="1" fill="#53b987"/><rect x="202" y="348" width="1" height="1" fill="#53b987"/><rect x="205" y="348" width="1" height="1" fill="#53b987"/><rect x="208" y="348" width="1" height="1" fill="#53b987"/><rect x="211" y="348" width="1" height="1" fill="#53b987"/><rect x="214" y="348" width="1" height="1" fill="#53b987"/><rect x="217" y="348" width="1" height="1" fill="#53b987"/><rect x="220" y="348" width="1" height="1" fill="#53b987"/><rect x="223" y="348" width="1" height="1" fill="#53b987"/><rect x="226" y="348" width="1" height="1" fill="#53b987"/><rect x="229" y="348" width="1" height="1" fill="#53b987"/><rect x="232" y="348" width="1" height="1" fill="#53b987"/><rect x="235" y="348" width="1" height="1" fill="#53b987"/><rect x="238" y="348" width="1" height="1" fill="#53b987"/><rect x="241" y="348" width="1" height="1" fill="#53b987"/><rect x="244" y="348" width="1" height="1" fill="#53b987"/><rect x="247" y="348" width="1" height="1" fill="#53b987"/><rect x="250" y="348" width="1" height="1" fill="#53b987"/><rect x="253" y="348" width="1" height="1" fill="#53b987"/><rect x="256" y="348" width="1" height="1" fill="#53b987"/><rect x="259" y="348" width="1" height="1" fill="#53b987"/><rect x="262" y="348" width="1" height="1" fill="#53b987"/><rect x="265" y="348" width="1" height="1" fill="#53b987"/><rect x="268" y="348" width="1" height="1" fill="#53b987"/><rect x="271" y="348" width="1" height="1" fill="#53b987"/><rect x="274" y="348" width="1" height="1" fill="#53b987"/><rect x="277" y="348" width="1" height="1" fill="#53b987"/><rect x="280" y="348" width="1" height="1" fill="#53b987"/><rect x="283" y="348" width="1" height="1" fill="#53b987"/><rect x="286" y="348" width="1" height="1" fill="#53b987"/><rect x="289" y="348" width="1" height="1" fill="#53b987"/><rect x="292" y="348" width="1" height="1" fill="#53b987"/><rect x="295" y="348" width="1" height="1" fill="#53b987"/><rect x="298" y="348" width="1" height="1" fill="#53b987"/><rect x="301" y="348" width="1" height="1" fill="#53b987"/><rect x="304" y="348" width="1" height="1" fill="#53b987"/><rect x="307" y="348" width="1" height="1" fill="#53b987"/><rect x="310" y="348" width="1" height="1" fill="#53b987"/><rect x="313" y="348" width="1" height="1" fill="#53b987"/><rect x="316" y="348" width="1" height="1" fill="#53b987"/><rect x="319" y="348" width="1" height="1" fill="#53b987"/><rect x="322" y="348" width="1" height="1" fill="#53b987"/><rect x="325" y="348" width="1" height="1" fill="#53b987"/><rect x="328" y="348" width="1" height="1" fill="#53b987"/><rect x="331" y="348" width="1" height="1" fill="#53b987"/><rect x="334" y="348" width="1" height="1" fill="#53b987"/><rect x="337" y="348" width="1" height="1" fill="#53b987"/><rect x="340" y="348" width="1" height="1" fill="#53b987"/><rect x="343" y="348" width="1" height="1" fill="#53b987"/><rect x="346" y="348" width="1" height="1" fill="#53b987"/><rect x="349" y="348" width="1" height="1" fill="#53b987"/><rect x="352" y="348" width="1" height="1" fill="#53b987"/><rect x="355" y="348" width="1" height="1" fill="#53b987"/><rect x="358" y="348" width="1" height="1" fill="#53b987"/><rect x="361" y="348" width="1" height="1" fill="#53b987"/><rect x="364" y="348" width="1" height="1" fill="#53b987"/><rect x="367" y="348" width="1" height="1" fill="#53b987"/><rect x="370" y="348" width="1" height="1" fill="#53b987"/><rect x="373" y="348" width="1" height="1" fill="#53b987"/><rect x="376" y="348" width="1" height="1" fill="#53b987"/><rect x="379" y="348" width="1" height="1" fill="#53b987"/><rect x="382" y="348" width="1" height="1" fill="#53b987"/><rect x="385" y="348" width="1" height="1" fill="#53b987"/><rect x="388" y="348" width="1" height="1" fill="#53b987"/><rect x="391" y="348" width="1" height="1" fill="#53b987"/><rect x="394" y="348" width="1" height="1" fill="#53b987"/><rect x="397" y="348" width="1" height="1" fill="#53b987"/><rect x="400" y="348" width="1" height="1" fill="#53b987"/><rect x="403" y="348" width="1" height="1" fill="#53b987"/><rect x="406" y="348" width="1" height="1" fill="#53b987"/><rect x="409" y="348" width="1" height="1" fill="#53b987"/><rect x="412" y="348" width="1" height="1" fill="#53b987"/><rect x="415" y="348" width="1" height="1" fill="#53b987"/><rect x="418" y="348" width="1" height="1" fill="#53b987"/><rect x="421" y="348" width="1" height="1" fill="#53b987"/><rect x="424" y="348" width="1" height="1" fill="#53b987"/><rect x="427" y="348" width="1" height="1" fill="#53b987"/><rect x="430" y="348" width="1" height="1" fill="#53b987"/><rect x="433" y="348" width="1" height="1" fill="#53b987"/><rect x="436" y="348" width="1" height="1" fill="#53b987"/><rect x="439" y="348" width="1" height="1" fill="#53b987"/><rect x="442" y="348" width="1" height="1" fill="#53b987"/><rect x="445" y="348" width="1" height="1" fill="#53b987"/><rect x="448" y="348" width="1" height="1" fill="#53b987"/><rect x="451" y="348" width="1" height="1" fill="#53b987"/><rect x="454" y="348" width="1" height="1" fill="#53b987"/><rect x="457" y="348" width="1" height="1" fill="#53b987"/><rect x="460" y="348" width="1" height="1" fill="#53b987"/><rect x="463" y="348" width="1" height="1" fill="#53b987"/><rect x="466" y="348" width="1" height="1" fill="#53b987"/><rect x="469" y="348" width="1" height="1" fill="#53b987"/><rect x="472" y="348" width="1" height="1" fill="#53b987"/><rect x="475" y="348" width="1" height="1" fill="#53b987"/><rect x="478" y="348" width="1" height="1" fill="#53b987"/><rect x="481" y="348" width="1" height="1" fill="#53b987"/><rect x="484" y="348" width="1" height="1" fill="#53b987"/><rect x="487" y="348" width="1" height="1" fill="#53b987"/><rect x="490" y="348" width="1" height="1" fill="#53b987"/><rect x="493" y="348" width="1" height="1" fill="#53b987"/><rect x="496" y="348" width="1" height="1" fill="#53b987"/><rect x="499" y="348" width="1" height="1" fill="#53b987"/><rect x="502" y="348" width="1" height="1" fill="#53b987"/><rect x="505" y="348" width="1" height="1" fill="#53b987"/><rect x="508" y="348" width="1" height="1" fill="#53b987"/><rect x="511" y="348" width="1" height="1" fill="#53b987"/><rect x="514" y="348" width="1" height="1" fill="#53b987"/><rect x="517" y="348" width="1" height="1" fill="#53b987"/><rect x="520" y="348" width="1" height="1" fill="#53b987"/><rect x="523" y="348" width="1" height="1" fill="#53b987"/><rect x="526" y="348" width="1" height="1" fill="#53b987"/><rect x="529" y="348" width="1" height="1" fill="#53b987"/><rect x="532" y="348" width="1" height="1" fill="#53b987"/><rect x="535" y="348" width="1" height="1" fill="#53b987"/><rect x="538" y="348" width="1" height="1" fill="#53b987"/><rect x="541" y="348" width="1" height="1" fill="#53b987"/><rect x="544" y="348" width="1" height="1" fill="#53b987"/><rect x="547" y="348" width="1" height="1" fill="#53b987"/><rect x="550" y="348" width="1" height="1" fill="#53b987"/><rect x="553" y="348" width="1" height="1" fill="#53b987"/><rect x="556" y="348" width="1" height="1" fill="#53b987"/><rect x="559" y="348" width="1" height="1" fill="#53b987"/><rect x="562" y="348" width="1" height="1" fill="#53b987"/><rect x="565" y="348" width="1" height="1" fill="#53b987"/><rect x="568" y="348" width="1" height="1" fill="#53b987"/><rect x="571" y="348" width="1" height="1" fill="#53b987"/><rect x="574" y="348" width="1" height="1" fill="#53b987"/><rect x="577" y="348" width="1" height="1" fill="#53b987"/><rect x="580" y="348" width="1" height="1" fill="#53b987"/><rect x="583" y="348" width="1" height="1" fill="#53b987"/><rect x="586" y="348" width="1" height="1" fill="#53b987"/><rect x="589" y="348" width="1" height="1" fill="#53b987"/><rect x="592" y="348" width="1" height="1" fill="#53b987"/><rect x="595" y="348" width="1" height="1" fill="#53b987"/><rect x="598" y="348" width="1" height="1" fill="#53b987"/><rect x="601" y="348" width="1" height="1" fill="#53b987"/><rect x="604" y="348" width="1" height="1" fill="#53b987"/><rect x="607" y="348" width="1" height="1" fill="#53b987"/><rect x="610" y="348" width="1" height="1" fill="#53b987"/><rect x="613" y="348" width="1" height="1" fill="#53b987"/><rect x="616" y="348" width="1" height="1" fill="#53b987"/><rect x="619" y="348" width="1" height="1" fill="#53b987"/><rect x="622" y="348" width="1" height="1" fill="#53b987"/><rect x="625" y="348" width="1" height="1" fill="#53b987"/><rect x="628" y="348" width="1" height="1" fill="#53b987"/><rect x="631" y="348" width="1" height="1" fill="#53b987"/><rect x="634" y="348" width="1" height="1" fill="#53b987"/><rect x="637" y="348" width="1" height="1" fill="#53b987"/><rect x="640" y="348" width="1" height="1" fill="#53b987"/><rect x="643" y="348" width="1" height="1" fill="#53b987"/><rect x="646" y="348" width="1" height="1" fill="#53b987"/><rect x="649" y="348" width="1" height="1" fill="#53b987"/><rect x="652" y="348" width="1" height="1" fill="#53b987"/><rect x="655" y="348" width="1" height="1" fill="#53b987"/><rect x="658" y="348" width="1" height="1" fill="#53b987"/><rect x="661" y="348" width="1" height="1" fill="#53b987"/><rect x="664" y="348" width="1" height="1" fill="#53b987"/><rect x="667" y="348" width="1" height="1" fill="#53b987"/><rect x="670" y="348" width="1" height="1" fill="#53b987"/><rect x="673" y="348" width="1" height="1" fill="#53b987"/><rect x="676" y="348" width="1" height="1" fill="#53b987"/><rect x="679" y="348" width="1" height="1" fill="#53b987"/><rect x="682" y="348" width="1" height="1" fill="#53b987"/><rect x="685" y="348" width="1" height="1" fill="#53b987"/><rect x="688" y="348" width="1" height="1" fill="#53b987"/><rect x="691" y="348" width="1" height="1" fill="#53b987"/><rect x="694" y="348" width="1" height="1" fill="#53b987"/><rect x="697" y="348" width="1" height="1" fill="#53b987"/><rect x="700" y="348" width="1" height="1" fill="#53b987"/><rect x="703" y="348" width="1" height="1" fill="#53b987"/><rect x="706" y="348" width="1" height="1" fill="#53b987"/><rect x="709" y="348" width="1" height="1" fill="#53b987"/><rect x="712" y="348" width="1" height="1" fill="#53b987"/><rect x="715" y="348" width="1" height="1" fill="#53b987"/><rect x="718" y="348" width="1" height="1" fill="#53b987"/><rect x="721" y="348" width="1" height="1" fill="#53b987"/><rect x="724" y="348" width="1" height="1" fill="#53b987"/><rect x="727" y="348" width="1" height="1" fill="#53b987"/><rect x="730" y="348" width="1" height="1" fill="#53b987"/><rect x="733" y="348" width="1" height="1" fill="#53b987"/><rect x="736" y="348" width="1" height="1" fill="#53b987"/><rect x="739" y="348" width="1" height="1" fill="#53b987"/><rect x="742" y="348" width="1" height="1" fill="#53b987"/><rect x="745" y="348" width="1" height="1" fill="#53b987"/><rect x="748" y="348" width="1" height="1" fill="#53b987"/><rect x="751" y="348" width="1" height="1" fill="#53b987"/><rect x="754" y="348" width="1" height="1" fill="#53b987"/><rect x="757" y="348" width="1" height="1" fill="#53b987"/><rect x="760" y="348" width="1" height="1" fill="#53b987"/><rect x="763" y="348" width="1" height="1" fill="#53b987"/><rect x="766" y="348" width="1" height="1" fill="#53b987"/><rect x="769" y="348" width="1" height="1" fill="#53b987"/><rect x="772" y="348" width="1" height="1" fill="#53b987"/><rect x="775" y="348" width="1" height="1" fill="#53b987"/><rect x="778" y="348" width="1" height="1" fill="#53b987"/><rect x="781" y="348" width="1" height="1" fill="#53b987"/><rect x="784" y="348" width="1" height="1" fill="#53b987"/><rect x="787" y="348" width="1" height="1" fill="#53b987"/><rect x="790" y="348" width="1" height="1" fill="#53b987"/><rect x="793" y="348" width="1" height="1" fill="#53b987"/><rect x="796" y="348" width="1" height="1" fill="#53b987"/><rect x="799" y="348" width="1" height="1" fill="#53b987"/><rect x="802" y="348" width="1" height="1" fill="#53b987"/><rect x="805" y="348" width="1" height="1" fill="#53b987"/><rect x="808" y="348" width="1" height="1" fill="#53b987"/><rect x="811" y="348" width="1" height="1" fill="#53b987"/><rect x="814" y="348" width="1" height="1" fill="#53b987"/><rect x="817" y="348" width="1" height="1" fill="#53b987"/><rect x="820" y="348" width="1" height="1" fill="#53b987"/><rect x="823" y="348" width="1" height="1" fill="#53b987"/><rect x="826" y="348" width="1" height="1" fill="#53b987"/><rect x="829" y="348" width="1" height="1" fill="#53b987"/><rect x="832" y="348" width="1" height="1" fill="#53b987"/><rect x="835" y="348" width="1" height="1" fill="#53b987"/><rect x="838" y="348" width="1" height="1" fill="#53b987"/><rect x="841" y="348" width="1" height="1" fill="#53b987"/><rect x="844" y="348" width="1" height="1" fill="#53b987"/><rect x="847" y="348" width="1" height="1" fill="#53b987"/><rect x="850" y="348" width="1" height="1" fill="#53b987"/><rect x="853" y="348" width="1" height="1" fill="#53b987"/><rect x="856" y="348" width="1" height="1" fill="#53b987"/><rect x="859" y="348" width="1" height="1" fill="#53b987"/><rect x="862" y="348" width="1" height="1" fill="#53b987"/><rect x="865" y="348" width="1" height="1" fill="#53b987"/><rect x="868" y="348" width="1" height="1" fill="#53b987"/><rect x="871" y="348" width="1" height="1" fill="#53b987"/><rect x="874" y="348" width="1" height="1" fill="#53b987"/><rect x="877" y="348" width="1" height="1" fill="#53b987"/><rect x="880" y="348" width="1" height="1" fill="#53b987"/><rect x="883" y="348" width="1" height="1" fill="#53b987"/><rect x="886" y="348" width="1" height="1" fill="#53b987"/><rect x="889" y="348" width="1" height="1" fill="#53b987"/><rect x="892" y="348" width="1" height="1" fill="#53b987"/><rect x="895" y="348" width="1" height="1" fill="#53b987"/><rect x="898" y="348" width="1" height="1" fill="#53b987"/><rect x="901" y="348" width="1" height="1" fill="#53b987"/><rect x="904" y="348" width="1" height="1" fill="#53b987"/><rect x="907" y="348" width="1" height="1" fill="#53b987"/><rect x="910" y="348" width="1" height="1" fill="#53b987"/><rect x="913" y="348" width="1" height="1" fill="#53b987"/><rect x="916" y="348" width="1" height="1" fill="#53b987"/></g><g shape-rendering="crispEdges"><rect x="6" y="43" width="994" height="1" fill="#4f4f4f"/><rect x="6" y="491" width="994" height="1" fill="#4f4f4f"/><rect x="6" y="43" width="1" height="449" fill="#4f4f4f"/><rect x="999" y="43" width="1" height="449" fill="#4f4f4f"/><rect x="917" y="43" width="1" height="449" fill="#4f4f4f"/><rect x="6" y="463" width="994" height="1" fill="#4f4f4f"/></g><g clip-path="url(#pax)" font-family='"Liberation Sans", sans-serif'><rect x="918" y="45" width="4" height="1" fill="#4f4f4f"/><text x="927" y="49" font-size="11" fill="#4a4a4a" textLength="61" lengthAdjust="spacingAndGlyphs">4500.000000</text><rect x="918" y="76" width="4" height="1" fill="#4f4f4f"/><text x="927" y="80" font-size="11" fill="#4a4a4a" textLength="61" lengthAdjust="spacingAndGlyphs">4250.000000</text><rect x="918" y="107" width="4" height="1" fill="#4f4f4f"/><text x="927" y="111" font-size="11" fill="#4a4a4a" textLength="61" lengthAdjust="spacingAndGlyphs">4000.000000</text><rect x="918" y="138" width="4" height="1" fill="#4f4f4f"/><text x="927" y="142" font-size="11" fill="#4a4a4a" textLength="61" lengthAdjust="spacingAndGlyphs">3750.000000</text><rect x="918" y="169" width="4" height="1" fill="#4f4f4f"/><text x="927" y="173" font-size="11" fill="#4a4a4a" textLength="61" lengthAdjust="spacingAndGlyphs">3500.000000</text><rect x="918" y="200" width="4" height="1" fill="#4f4f4f"/><text x="927" y="204" font-size="11" fill="#4a4a4a" textLength="61" lengthAdjust="spacingAndGlyphs">3250.000000</text><rect x="918" y="231" width="4" height="1" fill="#4f4f4f"/><text x="927" y="235" font-size="11" fill="#4a4a4a" textLength="61" lengthAdjust="spacingAndGlyphs">3000.000000</text><rect x="918" y="262" width="4" height="1" fill="#4f4f4f"/><text x="927" y="266" font-size="11" fill="#4a4a4a" textLength="61" lengthAdjust="spacingAndGlyphs">2750.000000</text><rect x="918" y="292" width="4" height="1" fill="#4f4f4f"/><text x="927" y="296" font-size="11" fill="#4a4a4a" textLength="61" lengthAdjust="spacingAndGlyphs">2500.000000</text><rect x="918" y="323" width="4" height="1" fill="#4f4f4f"/><text x="927" y="327" font-size="11" fill="#4a4a4a" textLength="61" lengthAdjust="spacingAndGlyphs">2250.000000</text><rect x="918" y="354" width="4" height="1" fill="#4f4f4f"/><text x="927" y="358" font-size="11" fill="#4a4a4a" textLength="61" lengthAdjust="spacingAndGlyphs">2000.000000</text><rect x="918" y="385" width="4" height="1" fill="#4f4f4f"/><text x="927" y="389" font-size="11" fill="#4a4a4a" textLength="61" lengthAdjust="spacingAndGlyphs">1750.000000</text><rect x="918" y="416" width="4" height="1" fill="#4f4f4f"/><text x="927" y="420" font-size="11" fill="#4a4a4a" textLength="61" lengthAdjust="spacingAndGlyphs">1500.000000</text><rect x="918" y="447" width="4" height="1" fill="#4f4f4f"/><text x="927" y="451" font-size="11" fill="#4a4a4a" textLength="61" lengthAdjust="spacingAndGlyphs">1250.000000</text></g><rect x="942.5" y="50.5" width="31" height="17" rx="3" fill="#fff" stroke="#d4d6da"/><text x="945.7" y="62.6" font-size="10.5" fill="#555" textLength="23.6" lengthAdjust="spacingAndGlyphs" font-family='"Liberation Sans", sans-serif'>USDT</text><path d="M917 340 H992 a2 2 0 0 1 2 2 V368 a2 2 0 0 1 -2 2 H917 Z" fill="#53b987"/><rect x="918" y="348" width="4" height="1" fill="#131722"/><text x="927" y="352.5" font-size="11" fill="#131722" textLength="61" lengthAdjust="spacingAndGlyphs" font-family='"Liberation Sans", sans-serif'>2050.010000</text><text x="927" y="365.5" font-size="11" fill="#131722" textLength="42" lengthAdjust="spacingAndGlyphs" font-family='"Liberation Sans", sans-serif'>12:40:54</text><g font-family='"Liberation Sans", sans-serif' shape-rendering="crispEdges"><rect x="86" y="464" width="1" height="4" fill="#4f4f4f"/><text x="86.5" y="480" font-size="11" fill="#4a4a4a" text-anchor="middle">Mar</text><rect x="179" y="464" width="1" height="4" fill="#4f4f4f"/><text x="179.5" y="480" font-size="11" fill="#4a4a4a" text-anchor="middle">15</text><rect x="293" y="464" width="1" height="4" fill="#4f4f4f"/><text x="293.5" y="480" font-size="11" fill="#4a4a4a" text-anchor="middle">Apr</text><rect x="413" y="464" width="1" height="4" fill="#4f4f4f"/><text x="413.5" y="480" font-size="11" fill="#4a4a4a" text-anchor="middle">19</text><rect x="493" y="464" width="1" height="4" fill="#4f4f4f"/><text x="493.5" y="480" font-size="11" fill="#4a4a4a" text-anchor="middle">May</text><rect x="599" y="464" width="1" height="4" fill="#4f4f4f"/><text x="599.5" y="480" font-size="11" fill="#4a4a4a" text-anchor="middle">17</text><rect x="699" y="464" width="1" height="4" fill="#4f4f4f"/><text x="699.5" y="480" font-size="11" fill="#4a4a4a" text-anchor="middle">Jun</text><rect x="786" y="464" width="1" height="4" fill="#4f4f4f"/><text x="786.5" y="480" font-size="11" fill="#4a4a4a" text-anchor="middle">14</text><rect x="899" y="464" width="1" height="4" fill="#4f4f4f"/><text x="899.5" y="480" font-size="11" fill="#4a4a4a" text-anchor="middle">Jul</text></g><text x="15.5" y="64.7" font-size="12.3" font-weight="bold" fill="#555" textLength="138" lengthAdjust="spacingAndGlyphs" font-family='"Liberation Sans", sans-serif'>ETH / USDT, 1D, BITBAY</text><text x="15.5" y="81.7" font-size="12.3" fill="#555" textLength="41.5" lengthAdjust="spacingAndGlyphs" font-family='"Liberation Sans", sans-serif'>Vol (20)</text><g font-family='"Liberation Sans", sans-serif'><text x="6.2" y="16.8" font-size="12.5" font-weight="bold" fill="#131722" textLength="57.4" lengthAdjust="spacingAndGlyphs">gerald228</text><text x="67.6" y="16.8" font-size="12.5" stroke="#131722" stroke-width="0.25" fill="#131722" textLength="334.5" lengthAdjust="spacingAndGlyphs">published on TradingView.com, June 28, 2021 09:19:08 UTC</text><text x="7.0" y="33.7" font-size="12" font-weight="bold" fill="#131722" textLength="115.5" lengthAdjust="spacingAndGlyphs">BITBAY:ETHUSDT, D</text><text x="128.4" y="33.7" font-size="12" stroke="#131722" stroke-width="0.25" fill="#131722" textLength="71.7" lengthAdjust="spacingAndGlyphs">2050.010000</text><path d="M205.3 33.7 L210.2 25.2 L215.1 33.7 Z" fill="#26a69a"/><text x="219.5" y="33.7" font-size="12" stroke="#131722" stroke-width="0.25" fill="#131722" textLength="133.4" lengthAdjust="spacingAndGlyphs">+220.010000 (+12.02%)</text><text x="357.5" y="33.7" font-size="12" font-weight="bold" fill="#131722" textLength="11.4" lengthAdjust="spacingAndGlyphs">O:</text><text x="371.9" y="33.7" font-size="12" stroke="#26a69a" stroke-width="0.25" fill="#26a69a" textLength="72" lengthAdjust="spacingAndGlyphs">1839.959997</text><text x="449.7" y="33.7" font-size="12" font-weight="bold" fill="#131722" textLength="12" lengthAdjust="spacingAndGlyphs">H:</text><text x="463.7" y="33.7" font-size="12" stroke="#26a69a" stroke-width="0.25" fill="#26a69a" textLength="72.3" lengthAdjust="spacingAndGlyphs">2073.999999</text><text x="541.6" y="33.7" font-size="12" font-weight="bold" fill="#131722" textLength="9.7" lengthAdjust="spacingAndGlyphs">L:</text><text x="553.3" y="33.7" font-size="12" stroke="#26a69a" stroke-width="0.25" fill="#26a69a" textLength="71.7" lengthAdjust="spacingAndGlyphs">1839.959997</text><text x="630.6" y="33.7" font-size="12" font-weight="bold" fill="#131722" textLength="9.8" lengthAdjust="spacingAndGlyphs">C:</text><text x="642.6" y="33.7" font-size="12" stroke="#26a69a" stroke-width="0.25" fill="#26a69a" textLength="72.9" lengthAdjust="spacingAndGlyphs">2050.010000</text></g><g transform="translate(4,498)">
<g fill="#2962ff">
<circle cx="6.3" cy="14.5" r="4.3"/>
<circle cx="13" cy="10.3" r="6.2"/>
<circle cx="21.4" cy="12.1" r="3.9"/>
<circle cx="23.6" cy="14.45" r="4.3"/>
<rect x="6.3" y="12" width="17.3" height="6.75"/>
</g>
<polyline points="1.5,17.6 11.9,9.4 18.1,15.4 26,7" fill="none" stroke="#fff" stroke-width="1.1" stroke-linejoin="round"/>
<circle cx="11.9" cy="9.4" r="2.1" fill="#fff"/>
<circle cx="18.1" cy="15.4" r="2.1" fill="#fff"/>
</g><text font-family='"Liberation Sans", sans-serif' x="33.8" y="513.9" font-size="13" stroke="#131722" stroke-width="0.25" fill="#131722" textLength="70.9" lengthAdjust="spacingAndGlyphs">TradingView</text></svg>
</body></html>
